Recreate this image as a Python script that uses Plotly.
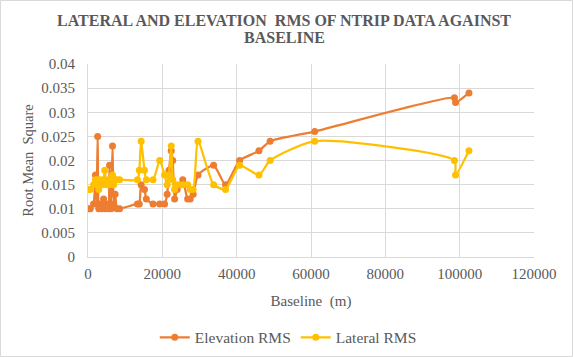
import plotly.graph_objects as go

baseline = [0, 600, 1500, 2000, 2300, 2600, 2900, 3300, 3700, 4200, 4500, 5000, 5500, 5800,
            6200, 6600, 6900, 7300, 7800, 8500, 13300, 13800, 14300, 15200, 15700, 17500,
            19300, 20600, 21300, 21800, 22400, 22800, 23300, 24000, 25500, 26800, 27500,
            28300, 29600, 33800, 37000, 40800, 46000, 49000, 61000, 98600, 98900, 102500]
elevation_rms = [0.010, 0.010, 0.011, 0.017, 0.011, 0.025, 0.010, 0.011, 0.010, 0.012, 0.010,
                 0.011, 0.010, 0.019, 0.010, 0.023, 0.011, 0.013, 0.010, 0.010, 0.011, 0.011,
                 0.015, 0.014, 0.012, 0.011, 0.011, 0.011, 0.013, 0.018, 0.022, 0.020, 0.012,
                 0.014, 0.016, 0.012, 0.012, 0.013, 0.017, 0.019, 0.015, 0.020, 0.022, 0.024,
                 0.026, 0.033, 0.032, 0.034]
lateral_rms = [0.014, 0.014, 0.015, 0.016, 0.015, 0.016, 0.014, 0.016, 0.015, 0.016, 0.018,
               0.015, 0.016, 0.015, 0.016, 0.017, 0.015, 0.016, 0.016, 0.016, 0.016, 0.018,
               0.024, 0.018, 0.016, 0.016, 0.020, 0.017, 0.015, 0.017, 0.023, 0.016, 0.014,
               0.015, 0.015, 0.015, 0.014, 0.014, 0.024, 0.015, 0.014, 0.019, 0.017, 0.020,
               0.024, 0.020, 0.017, 0.022]

x_ticks = [0, 20000, 40000, 60000, 80000, 100000, 120000]
x_tick_labels = ["0", "20000", "40000", "60000", "80000", "100000", "120000"]
y_ticks = [0, 0.005, 0.01, 0.015, 0.02, 0.025, 0.03, 0.035, 0.04]
y_tick_labels = ["0", "0.005", "0.01", "0.015", "0.02", "0.025", "0.03", "0.035", "0.04"]
title_lines = ["LATERAL AND ELEVATION  RMS OF NTRIP DATA AGAINST", "BASELINE"]

FONT = "Liberation Serif"
GREY = "#595959"
GRID = "#D9D9D9"

fig = go.Figure()
fig.add_trace(go.Scatter(
    x=baseline, y=elevation_rms, name="Elevation RMS", mode="lines+markers",
    line=dict(color="#ED7D31", width=2.25, shape="spline", smoothing=0.6),
    marker=dict(color="#ED7D31", size=7),
))
fig.add_trace(go.Scatter(
    x=baseline, y=lateral_rms, name="Lateral RMS", mode="lines+markers",
    line=dict(color="#FFC000", width=2.25, shape="spline", smoothing=0.6),
    marker=dict(color="#FFC000", size=7),
))

fig.update_layout(
    width=573, height=357,
    margin=dict(l=88, r=39, t=64, b=100, autoexpand=False),
    paper_bgcolor="white", plot_bgcolor="white",
    font=dict(family=FONT, size=15, color=GREY),
    showlegend=True,
    legend=dict(orientation="h", x=0.449, xanchor="center", y=-0.33, yanchor="top",
                font=dict(family=FONT, size=15.5, color=GREY), itemwidth=30,
                tracegroupgap=0),
    xaxis=dict(
        range=[0, 120000], tickvals=x_ticks, ticktext=x_tick_labels,
        showgrid=True, gridcolor=GRID, gridwidth=1, zeroline=False, automargin=False,
        showline=True, linecolor=GRID, ticks="", ticklabelstandoff=3,
        title=dict(text="Baseline  (m)", font=dict(family=FONT, size=15, color=GREY), standoff=14),
        tickfont=dict(family=FONT, size=15, color=GREY),
    ),
    yaxis=dict(
        range=[0, 0.04], tickvals=y_ticks, ticktext=y_tick_labels,
        showgrid=True, gridcolor=GRID, gridwidth=1, zeroline=False, automargin=False,
        showline=True, linecolor=GRID, ticks="", ticklabelstandoff=9,
        title=dict(text="Root Mean  Square", font=dict(family=FONT, size=14.5, color=GREY), standoff=4),
        tickfont=dict(family=FONT, size=15, color=GREY),
    ),
)

# two-line chart title (tight Excel-like line spacing)
for line_text, py in zip(title_lines, [20, 38]):
    fig.add_annotation(text=f"<b>{line_text}</b>", xref="paper", yref="paper",
                       x=(284 - 88) / 446, y=(257 - py) / 193, xanchor="center", yanchor="middle",
                       showarrow=False, font=dict(family=FONT, size=16, color=GREY))

# outer chart border
fig.add_shape(type="rect", xref="paper", yref="paper",
              x0=-87.5 / 446, x1=(572.5 - 88) / 446, y0=(257 - 356.5) / 193, y1=(257 - 0.5) / 193,
              line=dict(color=GRID, width=1), fillcolor="rgba(0,0,0,0)", layer="below")

fig.write_html("out.html", config={"displayModeBar": False},
               post_script="document.body.style.margin='0';")
